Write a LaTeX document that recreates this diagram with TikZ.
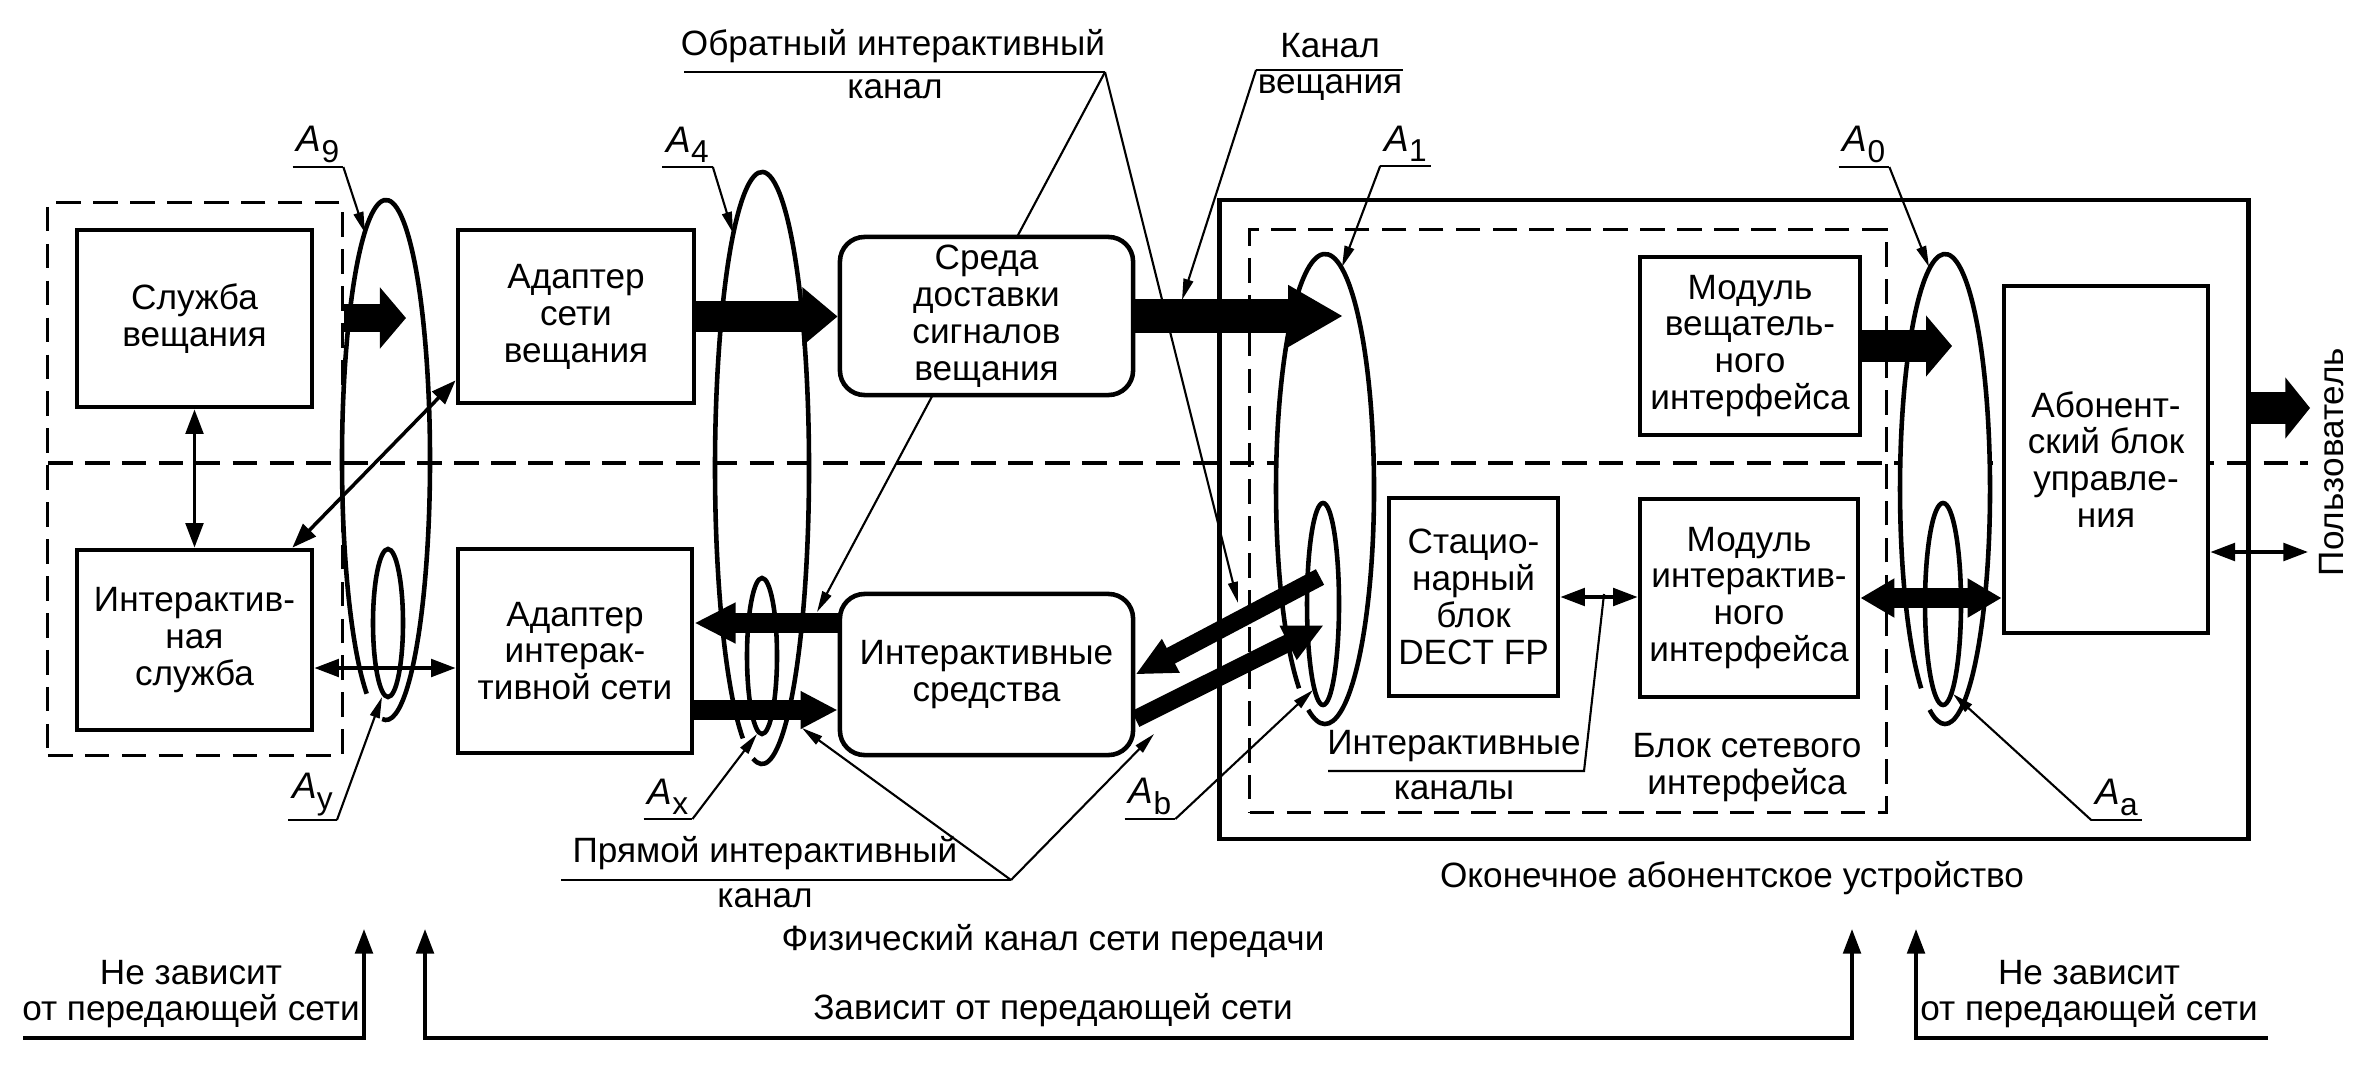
\documentclass[tikz,border=0pt]{standalone}
\usepackage{fontspec}
\setmainfont{Liberation Sans}
\usetikzlibrary{arrows.meta,calc,positioning}

\tikzstyle{blk}  = [draw, line width=1.3pt, fill=white, align=center, inner sep=0pt]
\tikzstyle{rblk} = [blk, rounded corners=7pt]
\tikzstyle{grp}  = [draw, line width=0.9pt, dash pattern=on 7pt off 3.5pt, inner sep=0pt]
\tikzstyle{arr}  = [line width=1pt, -{Triangle[length=7pt,width=5pt]}]
\tikzstyle{dbl}  = [line width=1pt, {Triangle[length=7pt,width=5pt]}-{Triangle[length=7pt,width=5pt]}]
\tikzstyle{lead} = [line width=0.6pt]
\tikzstyle{ptr}  = [lead, -{Triangle[length=6pt,width=2.8pt]}]
\tikzstyle{ring} = [line width=1.3pt]
\tikzstyle{lbl}  = [inner sep=1pt, anchor=south, font=\fontsize{10.5pt}{12pt}\selectfont]
\tikzset{fat/.style n args={3}{line width=#1, -{Triangle[length=#2,width=#3]}},
         fatboth/.style n args={3}{line width=#1, {Triangle[length=#2,width=#3]}-{Triangle[length=#2,width=#3]}}}
\newcommand{\Alab}[1]{\textit{A}\raisebox{-0.55ex}{\small #1}}

\begin{document}
\begin{tikzpicture}[x=0.01cm, y=-0.01cm, font=\fontsize{10pt}{10.5pt}\selectfont]
	\useasboundingbox (0,0) rectangle (2380,1091);

	% centres of the interface loops
	\coordinate (cA9) at (386,460);
	\coordinate (cAy) at (388,623);
	\coordinate (cA4) at (762,468);
	\coordinate (cAx) at (762,656);
	\coordinate (cA1) at (1325,489);
	\coordinate (cAb) at (1323,604);
	\coordinate (cA0) at (1945,489);
	\coordinate (cAa) at (1943,604);

	% broadcast / interactive separation
	\coordinate (sepL) at (48,463);
	\coordinate (sepR) at (2308,463);
	\draw[grp] (sepL) -- (sepR);
	\fill[white] (cA1) ellipse (49 and 235);
	\fill[white] (cA0) ellipse (45 and 235);

	% top captions
	\node (revtxt) at (893,46) {Обратный интерактивный};
	\node (revtxt2) at (895,89) {канал};
	\coordinate (revL) at (684,72);
	\coordinate (revR) at (1105,72);
	\coordinate (pRev1) at (817,612);
	\coordinate (pRev2) at (1238,603);
	\draw[lead] (revL) -- (revR);
	\draw[ptr] (revR) -- (pRev1);
	\draw[ptr] (revR) -- (pRev2);

	\node (bctxt) at (1330,46) {Канал};
	\node (bctxt2) at (1330,88) {вещания};
	\coordinate (bcL) at (1256,70);
	\coordinate (bcR) at (1403,70);
	\coordinate (pBc) at (1182,300);
	\draw[lead] (bcR) -- (bcL);
	\draw[ptr] (bcL) -- (pBc);

	\node (fwtxt) at (765,853) {Прямой интерактивный};
	\node (fwtxt2) at (765,898) {канал};
	\coordinate (fwL) at (561,880);
	\coordinate (fwR) at (1011,880);
	\coordinate (pFw1) at (802,728);
	\coordinate (pFw2) at (1154,734);
	\draw[lead] (fwL) -- (fwR);
	\draw[ptr] (fwR) -- (pFw1);
	\draw[ptr] (fwR) -- (pFw2);

	\node (ictxt) at (1454,746) {Интерактивные};
	\node (ictxt2) at (1454,790) {каналы};
	\coordinate (icL) at (1328,771);
	\coordinate (icR) at (1584,771);
	\coordinate (pIc) at (1604,594);
	\draw[lead] (icL) -- (icR) -- (pIc);

	% groups
	\node[grp, minimum width=2.94cm, minimum height=5.52cm] (svcgrp) at (195,479) {};
	\node[draw, line width=1.3pt, minimum width=10.28cm, minimum height=6.39cm] (term) at (1734,519.5) {};
	\node[grp, minimum width=6.36cm, minimum height=5.82cm] (nib) at (1568,521) {};

	% blocks
	\node[blk, minimum width=2.35cm, minimum height=1.77cm] (svc) at (194.5,318.5) {Служба\\вещания};
	\node[blk, minimum width=2.35cm, minimum height=1.80cm] (isvc) at (194.5,640) {Интерактив-\\ная\\служба};
	\node[blk, minimum width=2.36cm, minimum height=1.73cm] (badp) at (576,316.5) {Адаптер\\сети\\вещания};
	\node[blk, minimum width=2.34cm, minimum height=2.04cm] (iadp) at (575,651) {Адаптер\\интерак-\\тивной сети};
	\node[rblk, minimum width=2.93cm, minimum height=1.58cm] (medium) at (986.5,316) {Среда\\доставки\\сигналов\\вещания};
	\node[rblk, minimum width=2.93cm, minimum height=1.61cm] (imed) at (986.5,674.5) {Интерактивные\\средства};
	\node[blk, minimum width=2.20cm, minimum height=1.78cm] (bmod) at (1750,346) {Модуль\\вещатель-\\ного\\интерфейса};
	\node[blk, minimum width=1.69cm, minimum height=1.98cm] (dect) at (1473.5,597) {Стацио-\\нарный\\блок\\DECT FP};
	\node[blk, minimum width=2.18cm, minimum height=1.98cm] (imod) at (1749,598) {Модуль\\интерактив-\\ного\\интерфейса};
	\node[blk, minimum width=2.04cm, minimum height=3.47cm] (subs) at (2106,459.5) {Абонент-\\ский блок\\управле-\\ния};

	% broadcast flow
	\coordinate (tA9) at (406,318);
	\coordinate (tA1) at (1343,316);
	\coordinate (tA0) at (1952,346);
	\coordinate (tusr) at (2310,408);
	\draw[fat={8pt}{7.4pt}{17pt}] (svcgrp.east |- tA9) -- (tA9);
	\draw[fat={9pt}{10pt}{16pt}] (badp.east) -- (badp.east -| medium.west);
	\draw[fat={9.7pt}{15.6pt}{16.5pt}] (medium.east) -- (tA1);
	\draw[fat={9pt}{7.4pt}{17pt}] (bmod.east) -- (tA0);
	\draw[fat={9pt}{7pt}{17pt}] (term.east |- tusr) -- (tusr);

	% interactive flow
	\coordinate (ret) at (0,623);
	\coordinate (fwd) at (0,710);
	\coordinate (abs) at (0,719);
	\coordinate (abr) at (1320,577);
	\coordinate (abf) at (1324,625);
	\draw[fat={5.7pt}{11.7pt}{10.8pt}] (imed.west |- ret) -- (iadp.east |- ret);
	\draw[fat={5.5pt}{10.5pt}{10pt}] (iadp.east |- fwd) -- (imed.west |- fwd);
	\draw[fat={5pt}{11.4pt}{10pt}] (abr) -- (imed.east);
	\draw[fat={5pt}{11.4pt}{10pt}] (imed.east |- abs) -- (abf);
	\draw[fatboth={5.5pt}{9.7pt}{10.5pt}] (imod.east) -- (imod.east -| subs.west);

	% thin links
	\coordinate (lnk) at (0,668);
	\coordinate (usr2) at (2308,552);
	\draw[dbl] (svc.south) -- (isvc.north);
	\draw[dbl] ($(badp.south west)+(0,-25)$) -- ($(isvc.north east)+(-22,0)$);
	\draw[dbl] (isvc.east |- lnk) -- (iadp.west |- lnk);
	\draw[dbl] (dect.east) -- (dect.east -| imod.west);
	\draw[dbl] (subs.east |- usr2) -- (usr2);

	% interface loops
	\draw[ring] (cA9) ++(116:44 and 260) arc (116:455:44 and 260);
	\draw[ring] (cAy) ellipse (15 and 74);
	\draw[ring] (cA4) ++(114:47 and 296) arc (114:461:47 and 296);
	\draw[ring] (cAx) ellipse (15 and 78);
	\draw[ring] (cA1) ++(122:49 and 235) arc (122:470:49 and 235);
	\draw[ring] (cAb) ellipse (16 and 101);
	\draw[ring] (cA0) ++(122:45 and 235) arc (122:470:45 and 235);
	\draw[ring] (cAa) ellipse (18 and 101);

	% loop labels
	\node[lbl] (lA9) at (318,167) {\Alab{9}};
	\node[lbl] (lA4) at (687.5,167) {\Alab{4}};
	\node[lbl] (lA1) at (1405.5,166) {\Alab{1}};
	\node[lbl] (lA0) at (1864,167) {\Alab{0}};
	\node[lbl] (lAy) at (312.5,820) {\Alab{y}};
	\node[lbl] (lAx) at (668,819) {\Alab{x}};
	\node[lbl] (lAb) at (1150,819) {\Alab{b}};
	\node[lbl] (lAa) at (2116.5,820) {\Alab{a}};
	\coordinate (pA9) at (365,233);
	\coordinate (pA4) at (733,233);
	\coordinate (pA1) at (1342,267);
	\coordinate (pA0) at (1929,267);
	\coordinate (pAy) at (382,697);
	\coordinate (pAx) at (757,734);
	\coordinate (pAb) at (1313,690);
	\coordinate (pAa) at (1953,694);
	\draw[lead] (lA9.south west) -- (lA9.south east);
	\draw[ptr] (lA9.south east) -- (pA9);
	\draw[lead] (lA4.south west) -- (lA4.south east);
	\draw[ptr] (lA4.south east) -- (pA4);
	\draw[lead] (lA1.south east) -- (lA1.south west);
	\draw[ptr] (lA1.south west) -- (pA1);
	\draw[lead] (lA0.south west) -- (lA0.south east);
	\draw[ptr] (lA0.south east) -- (pA0);
	\draw[lead] (lAy.south west) -- (lAy.south east);
	\draw[ptr] (lAy.south east) -- (pAy);
	\draw[lead] (lAx.south west) -- (lAx.south east);
	\draw[ptr] (lAx.south east) -- (pAx);
	\draw[lead] (lAb.south west) -- (lAb.south east);
	\draw[ptr] (lAb.south east) -- (pAb);
	\draw[lead] (lAa.south east) -- (lAa.south west);
	\draw[ptr] (lAa.south west) -- (pAa);

	% captions
	\node (termtxt) at (1732,878) {Оконечное абонентское устройство};
	\node[align=center] (nibtxt) at (1747,768) {Блок сетевого\\интерфейса};
	\node[rotate=90] (usr) at (2332,462) {Пользователь};
	\node (phys) at (1053,941) {Физический канал сети передачи};
	\node (dep) at (1053,1010) {Зависит от передающей сети};
	\node[align=center] (indL) at (191,994) {Не зависит\\от передающей сети};
	\node[align=center] (indR) at (2089,994) {Не зависит\\от передающей сети};

	% network dependence
	\coordinate (b0) at (23,1038);
	\coordinate (b1) at (364,1038);
	\coordinate (t1) at (364,929);
	\coordinate (b2) at (425,1038);
	\coordinate (t2) at (425,929);
	\coordinate (b3) at (1852,1038);
	\coordinate (t3) at (1852,929);
	\coordinate (b4) at (1916,1038);
	\coordinate (t4) at (1916,929);
	\coordinate (b5) at (2268,1038);
	\draw[arr] (b0) -- (b1) -- (t1);
	\draw[dbl] (t2) -- (b2) -- (b3) -- (t3);
	\draw[arr] (b5) -- (b4) -- (t4);
\end{tikzpicture}
\end{document}
